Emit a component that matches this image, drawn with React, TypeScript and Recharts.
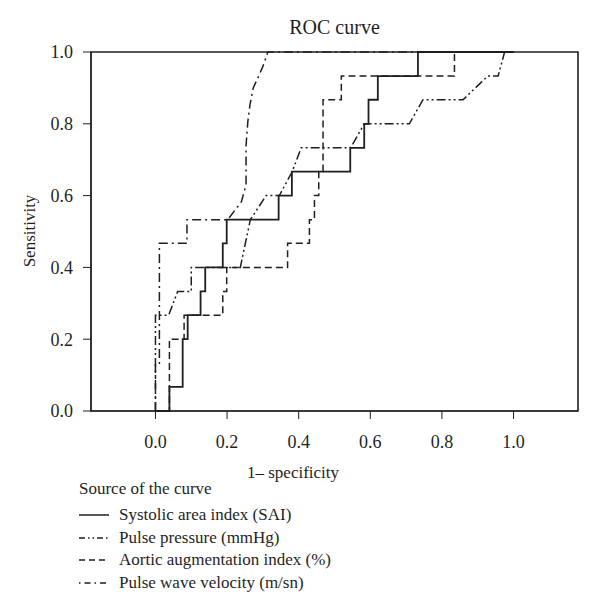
import React from 'react';
import { LineChart, Line, XAxis, YAxis, ReferenceArea } from 'recharts';

// ROC points (1 - specificity, sensitivity)
const saiFpr = [0, 0.039, 0.039, 0.076, 0.076, 0.09, 0.09, 0.126, 0.126, 0.139, 0.139, 0.188, 0.188, 0.199, 0.199, 0.344, 0.344, 0.381, 0.381, 0.544, 0.544, 0.583, 0.583, 0.595, 0.595, 0.621, 0.621, 0.733, 0.733, 1];
const saiTpr = [0, 0, 0.067, 0.067, 0.2, 0.2, 0.267, 0.267, 0.333, 0.333, 0.4, 0.4, 0.467, 0.467, 0.533, 0.533, 0.6, 0.6, 0.667, 0.667, 0.733, 0.733, 0.8, 0.8, 0.867, 0.867, 0.933, 0.933, 1, 1];

const ppFpr = [0, 0, 0.037, 0.062, 0.1, 0.1, 0.237, 0.265, 0.309, 0.346, 0.382, 0.407, 0.545, 0.583, 0.709, 0.747, 0.859, 0.928, 0.957, 0.975, 1];
const ppTpr = [0, 0.267, 0.267, 0.333, 0.333, 0.4, 0.4, 0.533, 0.6, 0.6, 0.667, 0.733, 0.733, 0.8, 0.8, 0.867, 0.867, 0.933, 0.933, 1, 1];

const aixFpr = [0, 0.039, 0.039, 0.08, 0.08, 0.188, 0.188, 0.199, 0.199, 0.369, 0.369, 0.43, 0.43, 0.444, 0.444, 0.456, 0.456, 0.468, 0.468, 0.519, 0.519, 0.835, 0.835, 1];
const aixTpr = [0, 0, 0.2, 0.2, 0.267, 0.267, 0.333, 0.333, 0.4, 0.4, 0.467, 0.467, 0.533, 0.533, 0.6, 0.6, 0.667, 0.667, 0.867, 0.867, 0.933, 0.933, 1, 1];

const pwvFpr = [0, 0, 0.011, 0.011, 0.088, 0.088, 0.202, 0.24, 0.253, 0.253, 0.258, 0.264, 0.273, 0.287, 0.3, 0.314, 1];
const pwvTpr = [0, 0.133, 0.133, 0.467, 0.467, 0.533, 0.533, 0.583, 0.63, 0.74, 0.806, 0.853, 0.9, 0.93, 0.96, 1, 1];

const xTicks = [0, 0.2, 0.4, 0.6, 0.8, 1.0];
const yTicks = [0, 0.2, 0.4, 0.6, 0.8, 1.0];

const toPoints = (xs: number[], ys: number[]) => xs.map((x, i) => ({ x, y: ys[i] }));

const FONT = '"Liberation Serif", "DejaVu Serif", serif';
const INK = '#1f1f1f';

const series = [
  { name: 'Systolic area index (SAI)', data: toPoints(saiFpr, saiTpr), dash: undefined, legendDash: undefined, width: 1.8 },
  { name: 'Pulse pressure (mmHg)', data: toPoints(ppFpr, ppTpr), dash: '9 3 2 3 2 3', legendDash: '6 3 1.5 3 1.5 3', width: 1.5 },
  { name: 'Aortic augmentation index (%)', data: toPoints(aixFpr, aixTpr), dash: '7 4', legendDash: '6 4', width: 1.5 },
  { name: 'Pulse wave velocity (m/sn)', data: toPoints(pwvFpr, pwvTpr), dash: '9 4 2 4', legendDash: '1.5 4 6 4', width: 1.5 },
];

const App: React.FC = () => {
  return (
    <div style={{ position: 'absolute', left: 0, top: 0, width: 600, height: 616, background: '#fff', fontFamily: FONT, color: INK }}>
      <LineChart width={600} height={616} margin={{ top: 52, right: 22, bottom: 165, left: 0 }}>
        <XAxis
          type="number"
          dataKey="x"
          domain={[-0.18, 1.18]}
          ticks={xTicks}
          allowDataOverflow
          height={40}
          tickSize={8}
          tickMargin={16}
          stroke={INK}
          tick={{ fill: INK, fontSize: 18, fontFamily: FONT }}
          tickFormatter={(v: number) => v.toFixed(1)}
        />
        <YAxis
          type="number"
          dataKey="y"
          domain={[0, 1]}
          ticks={yTicks}
          width={91}
          tickSize={8}
          tickMargin={10}
          stroke={INK}
          tick={{ fill: INK, fontSize: 18, fontFamily: FONT }}
          tickFormatter={(v: number) => v.toFixed(1)}
        />
        {series.map((s) => (
          <Line
            key={s.name}
            data={s.data}
            dataKey="y"
            type="linear"
            stroke={INK}
            strokeWidth={s.width}
            strokeDasharray={s.dash}
            dot={false}
            activeDot={false}
            isAnimationActive={false}
          />
        ))}
        {/* box around the plot */}
        <ReferenceArea x1={-0.18} x2={1.18} y1={0} y2={1} fill="none" stroke={INK} strokeWidth={1.6} ifOverflow="visible" />
      </LineChart>

      {/* title */}
      <div style={{ position: 'absolute', left: 91, width: 487, top: 15, textAlign: 'center', fontSize: 20, lineHeight: '24px' }}>
        ROC curve
      </div>

      {/* y axis label */}
      <div
        style={{
          position: 'absolute', left: 30, top: 231, fontSize: 17, lineHeight: '20px', whiteSpace: 'nowrap',
          transform: 'translate(-50%, -50%) rotate(-90deg)',
        }}
      >
        Sensitivity
      </div>

      {/* x axis label */}
      <div style={{ position: 'absolute', left: 247, top: 463, fontSize: 17, lineHeight: '20px', whiteSpace: 'nowrap' }}>
        1– specificity
      </div>

      {/* legend */}
      <div style={{ position: 'absolute', left: 79, top: 479, fontSize: 17, lineHeight: '20px', whiteSpace: 'nowrap' }}>
        Source of the curve
      </div>
      {series.map((s, i) => (
        <div key={s.name} style={{ position: 'absolute', left: 79, top: 505 + i * 22.6, height: 20, display: 'flex', alignItems: 'center', whiteSpace: 'nowrap' }}>
          <svg width={30} height={6} style={{ display: 'block' }}>
            <line x1={0} y1={3} x2={30} y2={3} stroke={INK} strokeWidth={1.5} strokeDasharray={s.legendDash} />
          </svg>
          <span style={{ marginLeft: 10, fontSize: 17, lineHeight: '20px' }}>{s.name}</span>
        </div>
      ))}
    </div>
  );
};

export default App;
